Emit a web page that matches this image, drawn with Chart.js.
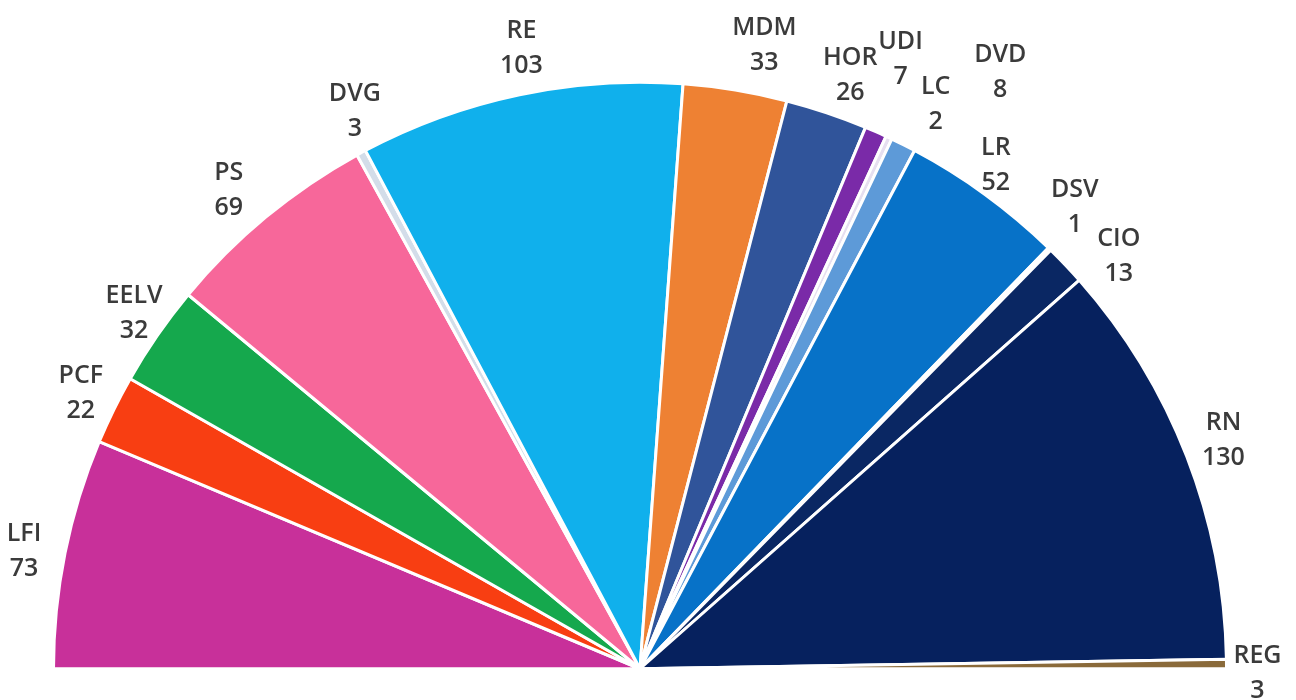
<!DOCTYPE html>
<html>
<head>
<meta charset="utf-8">
<title>Assemblée nationale</title>
<script src="https://cdn.jsdelivr.net/npm/chart.js@4.4.1/dist/chart.umd.min.js"></script>
<style>
  html, body {
    margin: 0;
    padding: 0;
    background: #ffffff;
  }
  #wrap {
    width: 1296px;
    height: 700px;
  }
</style>
</head>
<body>
<div id="wrap"><canvas id="seatChart" width="1296" height="700"></canvas></div>
<script>
// Seats per group, left to right
const groups = ["LFI", "PCF", "EELV", "PS", "DVG", "RE", "MDM", "HOR", "UDI", "LC", "DVD", "LR", "DSV", "CIO", "RN", "REG"];
const seats = [73, 22, 32, 69, 3, 103, 33, 26, 7, 2, 8, 52, 1, 13, 130, 3];

const colors = [
  "#c8309a", "#f83e12", "#15a84d", "#f7679a", "#d3dde9", "#10b0ec",
  "#ee8133", "#30549a", "#7a2aa8", "#e6dff0", "#5d9ad8", "#0772c8",
  "#e3ecf5", "#0a2763", "#06215e", "#8a6a3a"
];

// nudges for the labels that were moved by hand in the original
const labelNudge = [
  [7, 8], [11, 5], [17, 5], [-6, 11], [17, 1], [12, 1], [21, 3], [8, 9],
  [5, -28], [26, 11], [75, -29], [-18, 10], [-9, -7], [18, 25], [-9, 1], [-18, 9]
];

// Labels outside the slices
const outsideLabels = {
  id: "outsideLabels",
  afterDatasetsDraw: function (chart) {
    const ctx = chart.ctx;
    const meta = chart.getDatasetMeta(0);

    ctx.save();
    ctx.fillStyle = "#3b3b3b";
    ctx.font = "600 25px 'Open Sans'";
    ctx.textAlign = "center";
    ctx.textBaseline = "middle";

    meta.data.forEach(function (arc, i) {
      const mid = (arc.startAngle + arc.endAngle) / 2;
      const r = arc.outerRadius + 49;
      const x = arc.x + Math.cos(mid) * r + labelNudge[i][0];
      const y = arc.y + Math.sin(mid) * r + labelNudge[i][1];

      ctx.fillText(groups[i], x, y - 17);
      ctx.fillText(String(seats[i]), x, y + 18);
    });

    ctx.restore();
  }
};

const seatChart = document.getElementById("seatChart");

new Chart(seatChart, {
  type: "pie",
  data: {
    labels: groups,
    datasets: [
      {
        data: seats,
        backgroundColor: colors,
        borderColor: "#ffffff",
        borderWidth: 3
      }
    ]
  },
  options: {
    responsive: false,
    animation: false,
    rotation: -90,
    circumference: 180,
    layout: {
      padding: { left: 52, right: 68, top: 80, bottom: 29 }
    },
    plugins: {
      legend: { display: false },
      tooltip: { enabled: false }
    }
  },
  plugins: [outsideLabels]
});
</script>
</body>
</html>
